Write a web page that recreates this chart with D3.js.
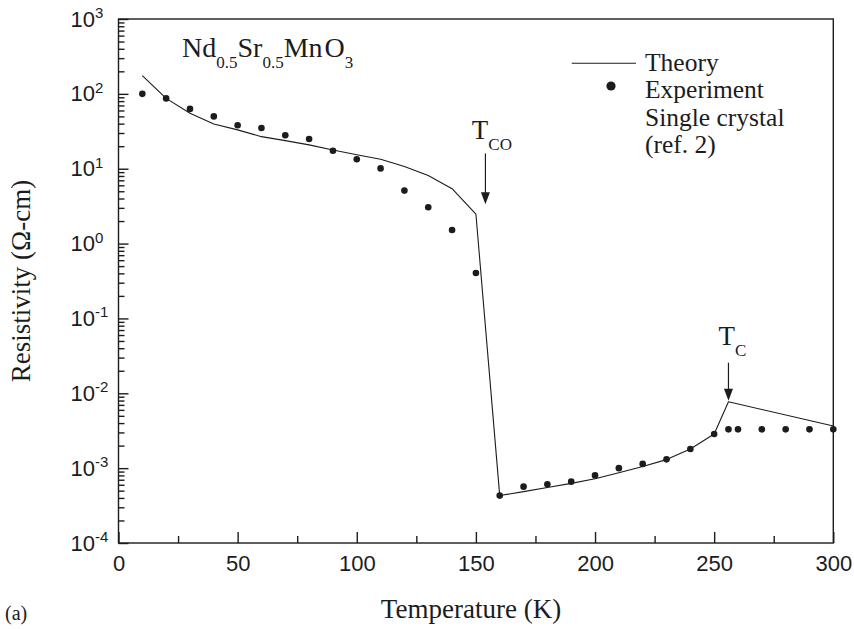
<!DOCTYPE html>
<html>
<head>
<meta charset="utf-8">
<script src="https://cdn.jsdelivr.net/npm/d3@7"></script>
<style>
  body { margin: 0; background: #fff; }
  svg { display: block; }
</style>
</head>
<body>
<svg id="chart" width="854" height="629"></svg>
<script>
// Nd0.5Sr0.5MnO3 resistivity vs temperature
const theoryT   = [10, 20, 30, 40, 50, 60, 70, 80, 90, 100, 110, 120, 130, 140, 150,
                   160, 170, 180, 190, 200, 210, 220, 230, 240, 250, 256, 300];
const theoryRho = [175, 87, 55, 39.5, 33, 26.8, 23.7, 20.8, 17.8, 15.4, 13.4, 10.7, 8.1, 5.4, 2.48,
                   4.3e-4, 4.85e-4, 5.5e-4, 6.26e-4, 7.2e-4, 8.7e-4, 1.05e-3, 1.3e-3, 1.8e-3, 2.86e-3, 7.7e-3, 3.66e-3];

const expT   = [10, 20, 30, 40, 50, 60, 70, 80, 90, 100, 110, 120, 130, 140, 150,
                160, 170, 180, 190, 200, 210, 220, 230, 240, 250, 256, 260, 270, 280, 290, 300];
const expRho = [100, 87, 63, 50, 38, 35, 28, 25, 17.4, 13.4, 10.1, 5.1, 3.05, 1.52, 0.405,
                4.3e-4, 5.66e-4, 6.1e-4, 6.6e-4, 8.0e-4, 1.0e-3, 1.14e-3, 1.31e-3, 1.8e-3, 2.86e-3,
                3.3e-3, 3.3e-3, 3.3e-3, 3.3e-3, 3.3e-3, 3.3e-3];

const xMajorTicks = [0, 50, 100, 150, 200, 250, 300];
const xMinorTicks = [25, 75, 125, 175, 225, 275];
const yExponents  = [-4, -3, -2, -1, 0, 1, 2, 3];

const legendLines = ["Theory", "Experiment", "Single crystal", "(ref. 2)"];

// transition markers: temperature, rho at arrow top, rho at arrow tip
const markers = [
  { main: "T", sub: "CO", t: 154, rhoTop: 16,     rhoTip: 3.35 },
  { main: "T", sub: "C",  t: 256, rhoTop: 0.0256, rhoTip: 7.96e-3 }
];

const ink = "#1c1c1c";
const serif = "'Liberation Serif', 'Times New Roman', serif";
const sans = "'Liberation Sans', Arial, sans-serif";

const svg = d3.select("#chart");

const x = d3.scaleLinear().domain([0, 300]).range([118.5, 833.3]);
const y = d3.scaleLog().domain([1e-4, 1e3]).range([543, 19]);

// frame
svg.append("rect")
  .attr("x", x(0)).attr("y", y(1e3))
  .attr("width", x(300) - x(0)).attr("height", y(1e-4) - y(1e3))
  .attr("fill", "none").attr("stroke", ink).attr("stroke-width", 1.4);

// left axis ticks (pointing inward)
const yMinor = [];
yExponents.slice(0, -1).forEach(e => {
  for (let k = 2; k <= 9; k++) yMinor.push(k * Math.pow(10, e));
});
const leftMajor = svg.append("g")
  .attr("transform", `translate(${x(0)},0)`)
  .call(d3.axisLeft(y).tickValues(yExponents.map(e => Math.pow(10, e))).tickSize(-10).tickFormat(""));
const leftMinor = svg.append("g")
  .attr("transform", `translate(${x(0)},0)`)
  .call(d3.axisLeft(y).tickValues(yMinor).tickSize(-6).tickFormat(""));
[leftMajor, leftMinor].forEach(g => {
  g.select(".domain").remove();
  g.selectAll("line").attr("stroke", ink).attr("stroke-width", 1.4);
});

// y tick labels with superscript exponent
yExponents.forEach(e => {
  const t = svg.append("text")
    .attr("x", 70.5).attr("y", y(Math.pow(10, e)) + 7.6)
    .attr("font-family", sans).attr("font-size", 22).attr("fill", ink);
  t.append("tspan").text("10");
  t.append("tspan").attr("dy", -8.6).attr("font-size", 15).text(String(e));
});

// bottom axis
const bottomMajor = svg.append("g")
  .attr("transform", `translate(0,${y(1e-4)})`)
  .call(d3.axisBottom(x).tickValues(xMajorTicks).tickSize(-11).tickPadding(12).tickFormat(d3.format("d")));
const bottomMinor = svg.append("g")
  .attr("transform", `translate(0,${y(1e-4)})`)
  .call(d3.axisBottom(x).tickValues(xMinorTicks).tickSize(-7).tickFormat(""));
[bottomMajor, bottomMinor].forEach(g => {
  g.select(".domain").remove();
  g.selectAll("line").attr("stroke", ink).attr("stroke-width", 1.4);
});
bottomMajor.selectAll("text")
  .attr("font-family", sans).attr("font-size", 22).attr("fill", ink);

// theory curve
const line = d3.line().x((d, i) => x(theoryT[i])).y((d, i) => y(theoryRho[i]));
svg.append("path")
  .datum(theoryT)
  .attr("d", line)
  .attr("fill", "none").attr("stroke", ink).attr("stroke-width", 1.1)
  .attr("stroke-linejoin", "round");

// experimental points
svg.append("g").selectAll("circle")
  .data(expT)
  .join("circle")
  .attr("cx", (d, i) => x(expT[i]))
  .attr("cy", (d, i) => y(expRho[i]))
  .attr("r", 3.3)
  .attr("fill", ink);

// compound name
const title = svg.append("text")
  .attr("x", 182).attr("y", 56.7)
  .attr("font-family", serif).attr("font-size", 28).attr("fill", ink);
[["Nd", 0], ["0.5", 1], ["Sr", 0], ["0.5", 1], ["Mn", 0], ["O", 0], ["3", 1]].forEach(([s, isSub], i, arr) => {
  const prevSub = i > 0 ? arr[i - 1][1] : 0;
  const dy = isSub && !prevSub ? 11.6 : (!isSub && prevSub ? -11.6 : 0);
  title.append("tspan")
    .attr("dy", dy)
    .attr("dx", s === "O" ? 2 : 0)
    .attr("font-size", isSub ? 17 : 28).text(s);
});

// legend
const lg = svg.append("g");
lg.append("line")
  .attr("x1", 571.7).attr("x2", 636).attr("y1", 63.3).attr("y2", 63.3)
  .attr("stroke", ink).attr("stroke-width", 1.1);
lg.append("circle").attr("cx", 611).attr("cy", 86).attr("r", 4.6).attr("fill", ink);
legendLines.forEach((s, i) => {
  lg.append("text")
    .attr("x", 645).attr("y", 71 + i * 27.3)
    .attr("font-family", serif).attr("font-size", 25.5).attr("fill", ink)
    .text(s);
});

// transition arrows and labels
const labelOffsets = [{ dx: -13.6, dy: -14 }, { dx: -10, dy: -17.7 }];
markers.forEach((m, i) => {
  const ax = x(m.t), y0 = y(m.rhoTop), y1 = y(m.rhoTip);
  svg.append("line")
    .attr("x1", ax).attr("x2", ax).attr("y1", y0).attr("y2", y1 - 8)
    .attr("stroke", ink).attr("stroke-width", 1.2);
  svg.append("path")
    .attr("d", `M${ax},${y1} L${ax - 4.5},${y1 - 12} L${ax + 4.5},${y1 - 12} Z`)
    .attr("fill", ink);
  const t = svg.append("text")
    .attr("x", ax + labelOffsets[i].dx).attr("y", y0 + labelOffsets[i].dy)
    .attr("font-family", serif).attr("font-size", 27).attr("fill", ink);
  t.append("tspan").text(m.main);
  t.append("tspan").attr("dy", 10.5).attr("font-size", 17).text(m.sub);
});

// axis titles
svg.append("text")
  .attr("x", 471).attr("y", 618)
  .attr("text-anchor", "middle")
  .attr("font-family", serif).attr("font-size", 27).attr("fill", ink)
  .text("Temperature (K)");

svg.append("text")
  .attr("transform", `translate(30,${(y(1e3) + y(1e-4)) / 2}) rotate(-90)`)
  .attr("text-anchor", "middle")
  .attr("font-family", serif).attr("font-size", 27).attr("fill", ink)
  .text("Resistivity (Ω-cm)");

svg.append("text")
  .attr("x", 5).attr("y", 620)
  .attr("font-family", serif).attr("font-size", 20).attr("fill", ink)
  .text("(a)");
</script>
</body>
</html>
